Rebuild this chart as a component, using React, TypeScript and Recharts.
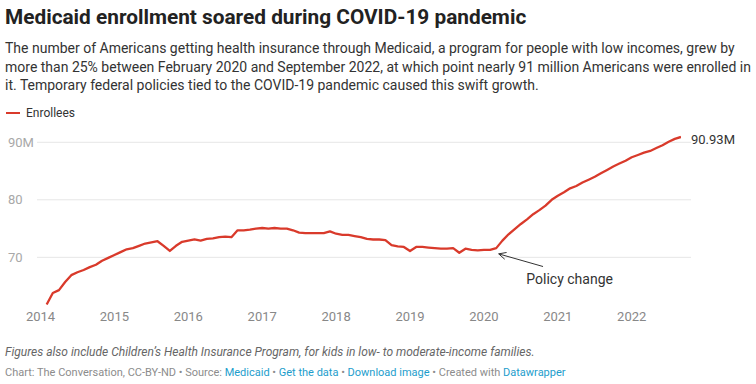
import { LineChart, Line, XAxis, YAxis, ReferenceLine, ReferenceDot } from 'recharts';

// Monthly Medicaid + CHIP enrollment, millions, Feb 2014 – Sep 2022
const FIRST_YEAR = 2014;
const FIRST_MONTH = 2;
const enrollees2014 = [61.8, 63.8, 64.3, 65.7, 66.9, 67.4, 67.8, 68.3, 68.7, 69.4, 69.9];
const enrollees2015 = [70.4, 70.9, 71.4, 71.6, 72.0, 72.4, 72.6, 72.8, 72.0, 71.1, 72.0, 72.7];
const enrollees2016 = [72.9, 73.1, 72.9, 73.2, 73.3, 73.5, 73.6, 73.5, 74.7, 74.7, 74.8, 75.0];
const enrollees2017 = [75.1, 75.0, 75.1, 75.0, 75.0, 74.7, 74.3, 74.2, 74.2, 74.2, 74.2, 74.5];
const enrollees2018 = [74.1, 73.9, 73.9, 73.7, 73.5, 73.2, 73.1, 73.1, 73.0, 72.1, 71.9, 71.8];
const enrollees2019 = [71.1, 71.8, 71.8, 71.7, 71.6, 71.5, 71.5, 71.6, 70.8, 71.5, 71.3, 71.2];
const enrollees2020 = [71.3, 71.3, 71.6, 72.9, 74.0, 74.9, 75.8, 76.6, 77.5, 78.2, 79.0, 80.0];
const enrollees2021 = [80.7, 81.3, 82.0, 82.4, 83.0, 83.5, 84.0, 84.6, 85.2, 85.8, 86.3, 86.8];
const enrollees2022 = [87.4, 87.8, 88.2, 88.5, 89.0, 89.5, 90.1, 90.6, 90.93];

const yearTicks = [2014, 2015, 2016, 2017, 2018, 2019, 2020, 2021, 2022];
const valueTicks = [70, 80, 90];
const valueTickLabels = ['70', '80', '90M'];

// annotation anchors (decimal year, millions)
const policyArrow = [{ x: 2020.8, y: 68.4 }, { x: 2020.2, y: 70.6 }];
const policyLabel = { x: 2021.16, y: 66.2, text: 'Policy change' };

const C = {
  red: '#d93a2b',
  text: '#333333',
  grid: '#e6e6e6',
  yTick: '#a8a8a8',
  xTick: '#888888',
  note: '#666666',
  credit: '#8c8c8c',
  link: '#1d9dcc',
};

const values = [
  ...enrollees2014, ...enrollees2015, ...enrollees2016, ...enrollees2017, ...enrollees2018,
  ...enrollees2019, ...enrollees2020, ...enrollees2021, ...enrollees2022,
];
const data = values.map((v, i) => ({ t: FIRST_YEAR + (FIRST_MONTH - 1 + i) / 12, v }));

// gridline spans past the plot on both sides, label sits at the left edge
function GridShape({ y1, label }: any) {
  return (
    <g>
      <line x1={37} x2={691} y1={y1} y2={y1} stroke={C.grid} strokeWidth={1} />
      <text x={8} y={y1} dominantBaseline="central" fill={C.yTick} fontSize={13}>{label}</text>
    </g>
  );
}

function XTick({ x, y, payload }: any) {
  return (
    <text x={x} y={y} dy={2} textAnchor="middle" dominantBaseline="central" fill={C.xTick} fontSize={13}>
      {payload.value}
    </text>
  );
}

function EndLabel({ x, y, index }: any) {
  if (index !== data.length - 1) return null;
  return (
    <text x={x + 10} y={y + 3} dominantBaseline="central" fill={C.text} fontSize={13}>
      {values[values.length - 1].toFixed(2)}M
    </text>
  );
}

function ArrowShape({ x1, y1, x2, y2 }: any) {
  const a = Math.atan2(y2 - y1, x2 - x1);
  const L = 8;
  const p1 = [x2 - L * Math.cos(a - 0.45), y2 - L * Math.sin(a - 0.45)];
  const p2 = [x2 - L * Math.cos(a + 0.45), y2 - L * Math.sin(a + 0.45)];
  return (
    <g stroke={C.text} strokeWidth={1} fill="none">
      <line x1={x1} y1={y1} x2={x2} y2={y2} />
      <polyline points={`${p1[0]},${p1[1]} ${x2},${y2} ${p2[0]},${p2[1]}`} />
    </g>
  );
}

function LabelShape({ cx, cy }: any) {
  return (
    <text x={cx} y={cy} textAnchor="middle" dominantBaseline="central" fill={C.text} fontSize={14}>
      {policyLabel.text}
    </text>
  );
}

const link = { color: C.link };

export default function App() {
  return (
    <div style={{ position: 'absolute', left: 0, top: 0, width: 756, height: 384, background: '#fff', fontFamily: 'Roboto, sans-serif', color: C.text, overflow: 'hidden' }}>
      <div style={{ position: 'absolute', left: 5, top: 5, fontSize: 20.8, fontWeight: 700, color: '#222', whiteSpace: 'nowrap' }}>
        Medicaid enrollment soared during COVID-19 pandemic
      </div>
      <div style={{ position: 'absolute', left: 5, top: 39, fontSize: 14, lineHeight: '18.5px', color: C.text, whiteSpace: 'nowrap' }}>
        <div>The number of Americans getting health insurance through Medicaid, a program for people with low incomes, grew by</div>
        <div>more than 25% between February 2020 and September 2022, at which point nearly 91 million Americans were enrolled in</div>
        <div>it. Temporary federal policies tied to the COVID-19 pandemic caused this swift growth.</div>
      </div>
      <div style={{ position: 'absolute', left: 6, top: 106, display: 'flex', alignItems: 'center', fontSize: 12, color: C.text }}>
        <span style={{ display: 'inline-block', width: 14, height: 2.5, background: C.red, marginRight: 6 }} />
        Enrollees
      </div>
      <div style={{ position: 'absolute', left: 0, top: 100 }}>
        <LineChart width={756} height={230} data={data} margin={{ top: 35.4, right: 75, bottom: 3.8, left: 40.5 }}>
          <XAxis dataKey="t" type="number" domain={[2014, 2022 + 8 / 12]} ticks={yearTicks} allowDataOverflow
            axisLine={false} tickLine={false} height={20} tick={<XTick />} interval={0} />
          <YAxis type="number" domain={[61.5, 91.2]} allowDataOverflow hide />
          {valueTicks.map((v, i) => (
            <ReferenceLine key={v} y={v} ifOverflow="visible" shape={<GridShape label={valueTickLabels[i]} />} />
          ))}
          <ReferenceLine segment={policyArrow} ifOverflow="visible" shape={<ArrowShape />} />
          <ReferenceDot x={policyLabel.x} y={policyLabel.y} r={0} ifOverflow="visible" shape={<LabelShape />} />
          <Line type="linear" dataKey="v" stroke={C.red} strokeWidth={2.3} dot={false} activeDot={false}
            isAnimationActive={false} label={<EndLabel />} strokeLinejoin="round" />
        </LineChart>
      </div>
      <div style={{ position: 'absolute', left: 5, top: 345, fontSize: 12, fontStyle: 'italic', color: C.note, whiteSpace: 'nowrap' }}>
        Figures also include Children’s Health Insurance Program, for kids in low- to moderate-income families.
      </div>
      <div style={{ position: 'absolute', left: 5, top: 366, fontSize: 11, color: C.credit, whiteSpace: 'nowrap' }}>
        Chart: The Conversation, CC-BY-ND • Source: <span style={link}>Medicaid</span> • <span style={link}>Get the data</span> • <span style={link}>Download image</span> • Created with <span style={link}>Datawrapper</span>
      </div>
    </div>
  );
}
